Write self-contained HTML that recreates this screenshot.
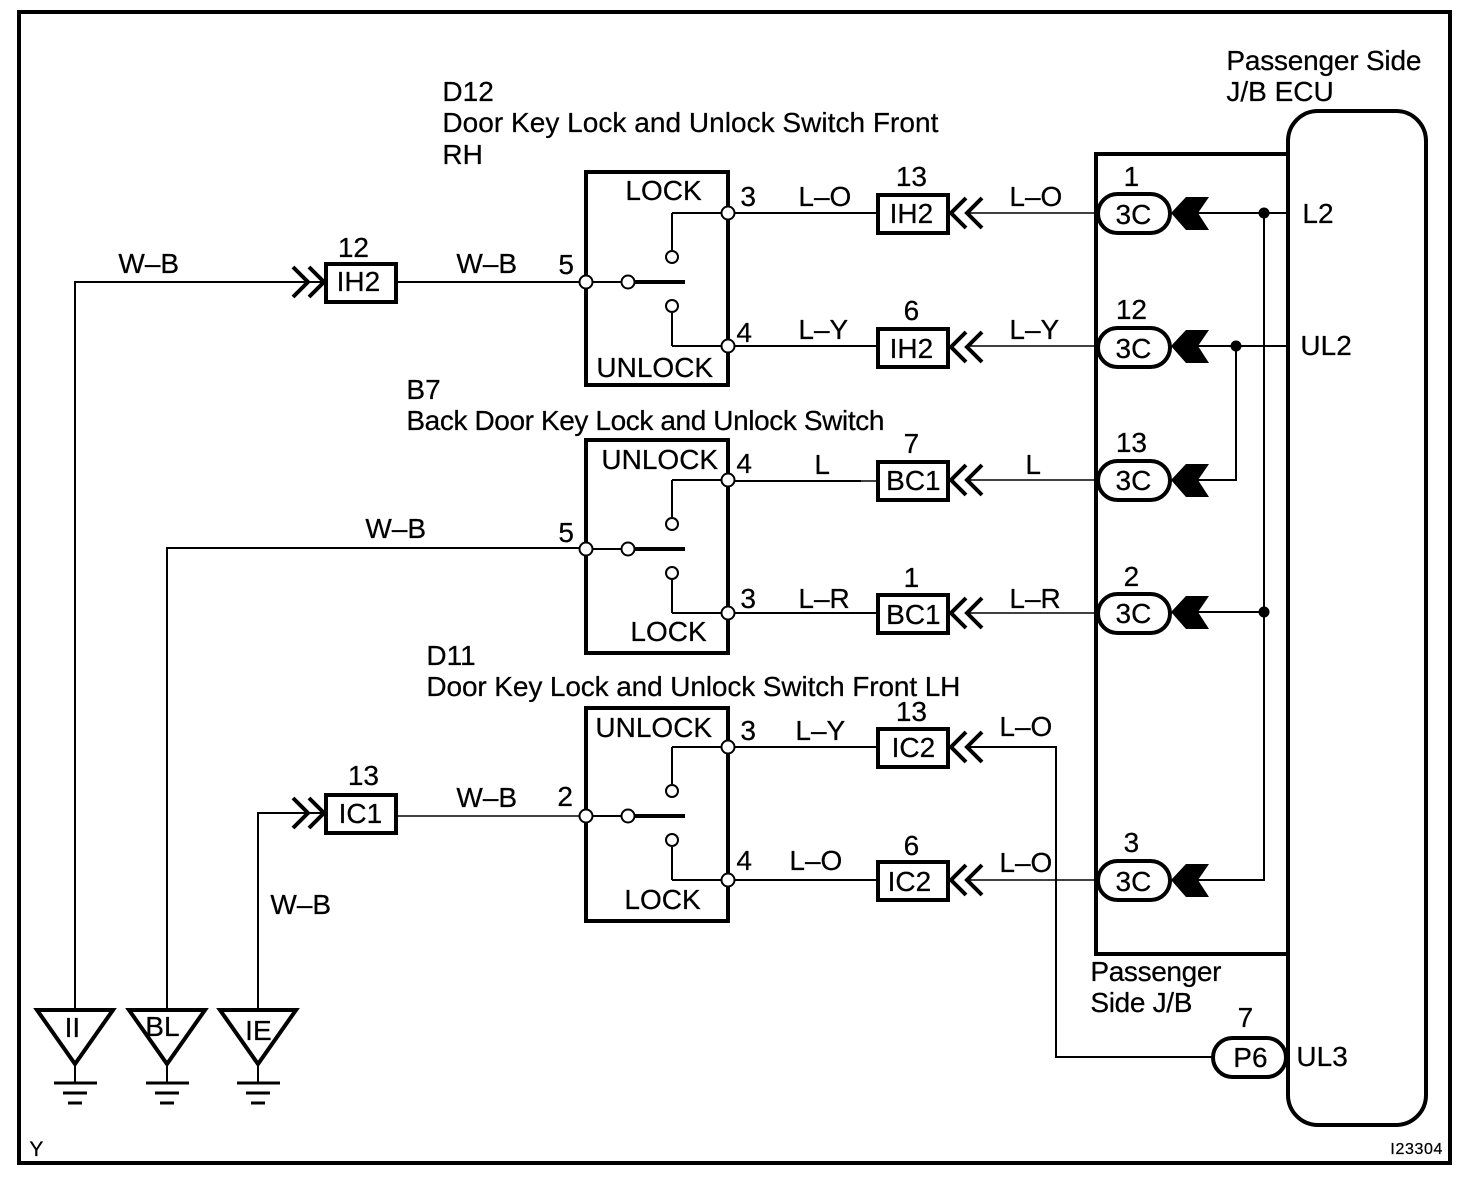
<!DOCTYPE html>
<html><head><meta charset="utf-8"><style>
html,body{margin:0;padding:0;background:#fff}
svg{display:block}
text{font-family:"Liberation Sans",Arial,sans-serif;font-size:28px;fill:#000;stroke:#000;stroke-width:.25px;transform:translateX(-.6px)}
.m{text-anchor:middle}
</style></head><body>
<svg width="1472" height="1178" viewBox="0 0 1472 1178" xmlns="http://www.w3.org/2000/svg">
<defs>
<g id="sw" fill="none" stroke="#000">
<path d="M672 213V250M672 313V346M672 213H728M672 346H728" stroke-width="2"/>
<path d="M586 282H622" stroke-width="2"/>
<path d="M632 282H685" stroke-width="4"/>
<g fill="#fff" stroke-width="2"><circle cx="672" cy="257" r="6"/><circle cx="672" cy="306" r="6"/><circle cx="628" cy="282" r="6.5"/><circle cx="586" cy="282" r="6.5"/><circle cx="728" cy="213" r="6.5"/><circle cx="728" cy="346" r="6.5"/></g>
</g>
<path id="chevL" d="M966 198L951 213L966 228M982 198L967 213L982 228" fill="none" stroke="#000" stroke-width="4"/>
<path id="chevR" d="M293 267L308 282L293 297M309 267L324 282L309 297" fill="none" stroke="#000" stroke-width="4"/>
<polygon id="blk" points="1171,213 1186,197 1209,197 1198,213 1209,230 1186,230"/>
<rect id="pill" x="1098" y="194" width="72" height="39" rx="19.5" fill="#fff" stroke="#000" stroke-width="4"/>
<rect id="box" x="878" y="195" width="70" height="38" fill="#fff" stroke="#000" stroke-width="4"/>
<g id="gnd" fill="none" stroke="#000">
<path d="M75 970V1008M75 1064V1083" stroke-width="2"/>
<path d="M37 1010H113L75 1064Z" stroke-width="4"/>
<path d="M54 1083H97M63 1093H87M68 1103H82" stroke-width="3"/>
</g>
</defs>
<rect x="0" y="0" width="1472" height="1178" fill="#fff"/>
<rect x="19" y="12" width="1431" height="1151" fill="none" stroke="#000" stroke-width="4"/>
<rect x="1288" y="111" width="138" height="1014" rx="30" fill="#fff" stroke="#000" stroke-width="4"/>
<path d="M1288 154H1096V954H1288" fill="none" stroke="#000" stroke-width="4"/>

<!-- wires -->
<g fill="none" stroke="#000" stroke-width="2">
<path d="M75 1008V282H325M397 282H586"/>
<path d="M167 1008V548H586"/>
<path d="M258 1008V813H322"/>
<path d="M728 213H878M728 346H878M728 481H861M728 613H878M728 747H878M728 880H878"/>
<path d="M966 747H1056V1057H1213"/>
<path d="M1198 213H1288M1198 346H1288M1198 480H1236V346M1198 612H1264M1198 880H1264V213"/>
</g>
<g fill="none" stroke="#000" stroke-width="1.4">
<path d="M397 816H586M861 481H878"/>
<path d="M966 213H1097M966 346H1097M966 480H1097M966 613H1097M966 880H1097"/>
</g>
<circle cx="1264" cy="213" r="5.5"/><circle cx="1236" cy="346" r="5.5"/><circle cx="1264" cy="612" r="5.5"/>

<!-- switches -->
<rect x="586" y="172" width="142" height="213" fill="none" stroke="#000" stroke-width="4"/>
<rect x="586" y="440" width="142" height="213" fill="none" stroke="#000" stroke-width="4"/>
<rect x="586" y="708" width="142" height="213" fill="none" stroke="#000" stroke-width="4"/>
<use href="#sw"/>
<use href="#sw" y="267"/>
<use href="#sw" y="534"/>

<!-- connectors -->
<use href="#box"/><use href="#box" y="134"/><use href="#box" y="267"/><use href="#box" y="400"/><use href="#box" y="534"/><use href="#box" y="667"/>
<use href="#box" x="-552" y="69"/><use href="#box" x="-552" y="600"/>
<use href="#chevL"/><use href="#chevL" y="134"/><use href="#chevL" y="267"/><use href="#chevL" y="400"/><use href="#chevL" y="534"/><use href="#chevL" y="667"/>
<use href="#chevR"/><use href="#chevR" y="531"/>
<use href="#pill"/><use href="#pill" y="134"/><use href="#pill" y="267"/><use href="#pill" y="400"/><use href="#pill" y="667"/>
<use href="#blk"/><use href="#blk" y="133"/><use href="#blk" y="267"/><use href="#blk" y="399"/><use href="#blk" y="667"/>
<rect x="1213" y="1038" width="73" height="39" rx="19.5" fill="#fff" stroke="#000" stroke-width="4"/>

<!-- grounds -->
<use href="#gnd"/><use href="#gnd" x="92"/><use href="#gnd" x="183"/>

<!-- headings -->
<text x="443" y="101">D12</text>
<text x="443" y="132" textLength="496">Door Key Lock and Unlock Switch Front</text>
<text x="443" y="164">RH</text>
<text x="1227" y="70" textLength="195">Passenger Side</text>
<text x="1227" y="101">J/B ECU</text>
<text x="407" y="399">B7</text>
<text x="407" y="430" textLength="478">Back Door Key Lock and Unlock Switch</text>
<text x="427" y="665">D11</text>
<text x="427" y="696" textLength="534">Door Key Lock and Unlock Switch Front LH</text>
<text x="1091" y="981" textLength="131">Passenger</text>
<text x="1091" y="1012" textLength="102">Side J/B</text>

<!-- switch labels -->
<text x="626" y="200">LOCK</text>
<text x="597" y="377">UNLOCK</text>
<text x="602" y="469">UNLOCK</text>
<text x="631" y="641">LOCK</text>
<text x="596" y="737">UNLOCK</text>
<text x="625" y="909">LOCK</text>

<!-- pins -->
<text x="741" y="206">3</text><text x="737" y="342">4</text><text x="559" y="274">5</text>
<text x="737" y="473">4</text><text x="741" y="608">3</text><text x="559" y="542">5</text>
<text x="741" y="740">3</text><text x="737" y="870">4</text><text x="558" y="806">2</text>

<!-- wire labels -->
<text x="799" y="206">L–O</text><text x="799" y="339">L–Y</text><text x="815" y="474">L</text><text x="799" y="608">L–R</text><text x="796" y="740">L–Y</text><text x="790" y="870">L–O</text>
<text x="1010" y="206">L–O</text><text x="1010" y="339">L–Y</text><text x="1026" y="474">L</text><text x="1010" y="608">L–R</text><text x="1000" y="736">L–O</text><text x="1000" y="872">L–O</text>
<text x="119" y="273">W–B</text><text x="457" y="273">W–B</text><text x="366" y="538">W–B</text><text x="457" y="807">W–B</text><text x="271" y="914">W–B</text>

<!-- connector labels -->
<text class="m" x="912" y="186">13</text><text class="m" x="912" y="223">IH2</text>
<text class="m" x="912" y="320">6</text><text class="m" x="912" y="358">IH2</text>
<text class="m" x="912" y="453">7</text><text class="m" x="914" y="490">BC1</text>
<text class="m" x="912" y="587">1</text><text class="m" x="914" y="624">BC1</text>
<text class="m" x="912" y="721">13</text><text class="m" x="914" y="757">IC2</text>
<text class="m" x="912" y="855">6</text><text class="m" x="910" y="891">IC2</text>
<text class="m" x="354" y="257">12</text><text class="m" x="359" y="291">IH2</text>
<text class="m" x="364" y="785">13</text><text class="m" x="361" y="823">IC1</text>
<text class="m" x="1132" y="186">1</text><text class="m" x="1134" y="224">3C</text>
<text class="m" x="1132" y="319">12</text><text class="m" x="1134" y="358">3C</text>
<text class="m" x="1132" y="452">13</text><text class="m" x="1134" y="490">3C</text>
<text class="m" x="1132" y="586">2</text><text class="m" x="1134" y="623">3C</text>
<text class="m" x="1132" y="852">3</text><text class="m" x="1134" y="891">3C</text>
<text x="1303" y="223">L2</text><text x="1301" y="355">UL2</text><text x="1297" y="1066">UL3</text>
<text class="m" x="1251" y="1067">P6</text><text class="m" x="1246" y="1027">7</text>
<text class="m" x="73" y="1037">II</text><text class="m" x="163" y="1036">BL</text><text class="m" x="259" y="1040">IE</text>
<text x="30" y="1156" style="font-size:21px">Y</text>
<text x="1391" y="1154" style="font-size:16px" textLength="52">I23304</text>
</svg>
</body></html>
